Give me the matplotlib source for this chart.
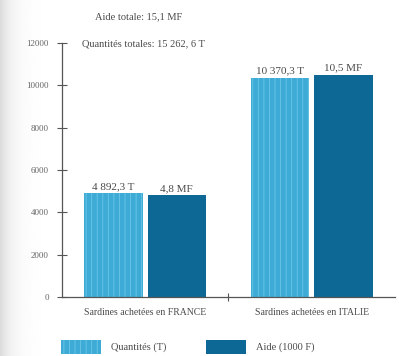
import numpy as np
import matplotlib.pyplot as plt
from matplotlib.patches import Patch

categories = ["Sardines achetées en FRANCE", "Sardines achetées en ITALIE"]
quantites = [4892.3, 10370.3]      # tonnes
aide = [4800, 10500]               # milliers de F
quantites_labels = ["4 892,3 T", "10 370,3 T"]
aide_labels = ["4,8 MF", "10,5 MF"]
yticks = [0, 2000, 4000, 6000, 8000, 10000, 12000]

LIGHT = "#3eabd6"
STRIPE = "#6cc6e8"
DARK = "#0e6896"
TXT = "#4a4a4a"

plt.rcParams["font.family"] = ["Liberation Serif", "DejaVu Serif"]
plt.rcParams["hatch.linewidth"] = 0.6

fig = plt.figure(figsize=(3.99, 3.56), dpi=100)

# faint scan shading on the left edge
bg = fig.add_axes([0, 0, 1, 1], zorder=-10)
grad = np.linspace(0, 1, 400)
shade = 1 - 0.14 * np.exp(-grad * 35)
bg.imshow(np.tile(shade, (10, 1)), cmap="gray", vmin=0, vmax=1,
          aspect="auto", extent=[0, 1, 0, 1])
bg.axis("off")

ax = fig.add_axes([0.155, 0.166, 0.835, 0.713])
ax.patch.set_alpha(0)

x = np.array([0.5, 1.5])
w = 0.35
off = 0.19
ax.bar(x - off, quantites, w, color=LIGHT, edgecolor=STRIPE,
       hatch="|||", linewidth=0)
ax.bar(x + off, aide, w, color=DARK, linewidth=0)

for xi, v, s in zip(x - off, quantites, quantites_labels):
    ax.text(xi, v + 120, s, ha="center", va="bottom", fontsize=8, color=TXT)
for xi, v, s in zip(x + off, aide, aide_labels):
    ax.text(xi, v + 120, s, ha="center", va="bottom", fontsize=8, color=TXT)

ax.set_xlim(0, 2)
ax.set_ylim(0, 12000)
ax.set_yticks(yticks)
ax.set_yticklabels([str(t) for t in yticks], fontsize=6.5, color="#666666")
ax.tick_params(axis="y", direction="inout", length=7, width=0.8,
               color="#555555", pad=6)
ax.set_xticks(x)
ax.set_xticklabels(categories, fontsize=7, color=TXT)
ax.tick_params(axis="x", length=0, pad=8)
ax.set_xticks([1.0], minor=True)
ax.tick_params(axis="x", which="minor", direction="inout", length=6,
               width=0.8, color="#555555")

for sp in ["top", "right"]:
    ax.spines[sp].set_visible(False)
for sp in ["left", "bottom"]:
    ax.spines[sp].set_color("#555555")
    ax.spines[sp].set_linewidth(0.9)

fig.text(0.238, 0.945, "Aide totale: 15,1 MF", fontsize=7.5, color=TXT)
fig.text(0.205, 0.87, "Quantités totales: 15 262, 6 T", fontsize=7.5,
         color=TXT)

handles = [Patch(facecolor=LIGHT, edgecolor=STRIPE, hatch="|||", linewidth=0),
           Patch(facecolor=DARK, linewidth=0)]
fig.legend(handles, ["Quantités (T)", "Aide (1000 F)"], loc="lower left",
           bbox_to_anchor=(0.13, -0.02), ncol=2, frameon=False, fontsize=7.5,
           handlelength=3.8, handleheight=1.7, columnspacing=3.8,
           handletextpad=1.0, labelcolor=TXT)

fig.savefig("out.png", dpi=100)
